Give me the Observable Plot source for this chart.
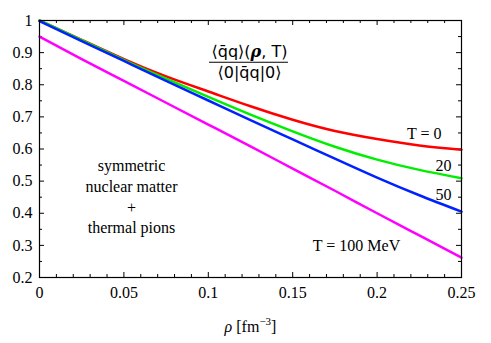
<!DOCTYPE html>
<html><head><meta charset="utf-8">
<script src="https://cdn.jsdelivr.net/npm/d3@7"></script>
<script src="https://cdn.jsdelivr.net/npm/@observablehq/plot@0.6"></script>
<style>
body{margin:0;background:#fff}
svg text, svg tspan { font-family: "Liberation Serif", "DejaVu Serif", serif !important; }
svg g.num text, svg g.num tspan, svg g.den text { font-family: "DejaVu Sans", sans-serif !important; }
svg g.num tspan.rho { font-family: "DejaVu Serif", serif !important; }
</style>
</head><body><div id="chart"></div>
<script>
// density grid [fm^-3]
const rho = [0, 0.025, 0.05, 0.075, 0.1, 0.125, 0.15, 0.175, 0.2, 0.225, 0.25];
// condensate ratio per temperature
const T0   = [1.000, 0.940, 0.880, 0.826, 0.779, 0.733, 0.691, 0.656, 0.631, 0.611, 0.598];
const T20  = [1.000, 0.939, 0.877, 0.819, 0.762, 0.707, 0.655, 0.607, 0.567, 0.535, 0.509];
const T50  = [0.998, 0.936, 0.874, 0.812, 0.751, 0.690, 0.630, 0.570, 0.511, 0.456, 0.405];
const T100 = [0.950, 0.880, 0.812, 0.744, 0.676, 0.608, 0.539, 0.470, 0.400, 0.331, 0.262];
const seriesNames = ["T = 0", "20", "50", "T = 100 MeV"];
const xTickLabels = [0, 0.05, 0.1, 0.15, 0.2, 0.25];
const yTickLabels = [0.2, 0.3, 0.4, 0.5, 0.6, 0.7, 0.8, 0.9, 1];
const xMinorTicks = [0.01,0.02,0.03,0.04,0.06,0.07,0.08,0.09,0.11,0.12,0.13,0.14,0.16,0.17,0.18,0.19,0.21,0.22,0.23,0.24];
const yMinorTicks = [0.25, 0.35, 0.45, 0.55, 0.65, 0.75, 0.85, 0.95];

const colors = ["#ff0000", "#00ee00", "#0022ff", "#ff00ff"];
const allSeries = [T0, T20, T50, T100];
const lines = allSeries.flatMap((vals, i) => rho.map((r, j) => ({rho: r, v: vals[j], s: seriesNames[i]})));

// label annotations (data coords)
const curveLabels = [
  {x: 0.228, y: 0.632, t: "T = 0"},
  {x: 0.2393, y: 0.533, t: "20"},
  {x: 0.2393, y: 0.440, t: "50"},
  {x: 0.1878, y: 0.284, t: "T = 100 MeV"}
];

const W = 491, H = 343, mL = 39, mR = 30, mT = 20, mB = 66;
const pH = H - mT - mB, pW = W - mL - mR;

const chart = Plot.plot({
  width: W, height: H,
  marginLeft: mL, marginRight: mR, marginTop: mT, marginBottom: mB,
  style: {background: "white", color: "black"},
  x: {domain: [0, 0.25]},
  y: {domain: [0.2, 1]},
  color: {domain: seriesNames, range: colors},
  marks: [
    Plot.axisX(xTickLabels, {tickSize: 0, tickPadding: 9, label: null, tickFormat: d => String(d), fontSize: 16}),
    Plot.axisY(yTickLabels, {tickSize: 0, tickPadding: 7, label: null, tickFormat: d => String(d), fontSize: 16}),
    // inward ticks, bottom/top
    Plot.ruleX(xTickLabels, {x: d => d, insetTop: pH - 5, stroke: "black"}),
    Plot.ruleX(xTickLabels, {x: d => d, insetBottom: pH - 5, stroke: "black"}),
    Plot.ruleX(xMinorTicks, {x: d => d, insetTop: pH - 3, stroke: "black"}),
    Plot.ruleX(xMinorTicks, {x: d => d, insetBottom: pH - 3, stroke: "black"}),
    // inward ticks, left/right
    Plot.ruleY(yTickLabels, {y: d => d, insetRight: pW - 5, stroke: "black"}),
    Plot.ruleY(yTickLabels, {y: d => d, insetLeft: pW - 5, stroke: "black"}),
    Plot.ruleY(yMinorTicks, {y: d => d, insetRight: pW - 3, stroke: "black"}),
    Plot.ruleY(yMinorTicks, {y: d => d, insetLeft: pW - 3, stroke: "black"}),
    Plot.line(lines, {x: "rho", y: "v", z: "s", stroke: "s", strokeWidth: 2.5, curve: "natural"}),
    Plot.frame({stroke: "black", strokeWidth: 1.2}),
    Plot.text(curveLabels, {x: "x", y: "y", text: "t", lineAnchor: "bottom", fontSize: 16}),
    Plot.text(["symmetric\nnuclear matter\n+\nthermal pions"], {x: 0.0545, y: 0.337, text: d => d, lineAnchor: "bottom", lineHeight: 1.3, fontSize: 16}),
    // formula
    Plot.text(["NUM"], {x: 0.1244, y: 0.886, text: d => d, lineAnchor: "bottom", fontSize: 16, className: "num"}),
    Plot.text(["DEN"], {x: 0.1244, y: 0.8195, text: d => d, lineAnchor: "bottom", fontSize: 16, className: "den"}),
    Plot.ruleY([0.870], {x1: 0.1007, x2: 0.1475, stroke: "black", strokeWidth: 1.2}),
    // x axis label
    Plot.text(["XLAB"], {frameAnchor: "bottom", text: d => d, dy: 54, lineAnchor: "bottom", fontSize: 16, className: "xlab"})
  ]
});
document.getElementById("chart").appendChild(chart);

const svg = d3.select(chart);
const num = svg.select("g.num text");
num.text(null);
num.append("tspan").text("⟨q\u0304q⟩(");
num.append("tspan").attr("class", "rho").text("ρ").attr("font-style", "italic").attr("font-weight", "bold");
num.append("tspan").text(", T)");
const den = svg.select("g.den text");
den.text("⟨0|q\u0304q|0⟩");
const xl = svg.select("g.xlab text");
xl.text(null);
xl.append("tspan").text("ρ").attr("font-style", "italic");
xl.append("tspan").text(" [fm");
xl.append("tspan").text("−3").attr("font-size", "11px").attr("dy", "-7");
xl.append("tspan").text("]").attr("dy", "7");
</script>
</body></html>
